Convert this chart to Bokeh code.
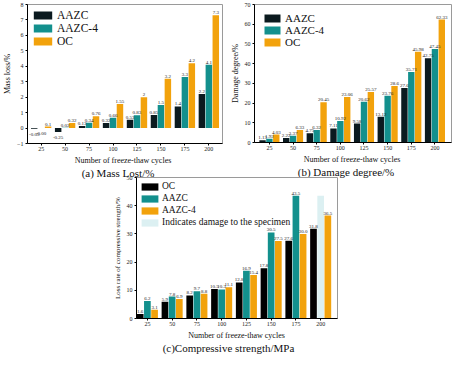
from bokeh.plotting import figure
from bokeh.models import ColumnDataSource, Legend, LegendItem, Spacer, FixedTicker, Div
from bokeh.layouts import column, row
from bokeh.embed import file_html
from bokeh.resources import INLINE
from bokeh.core.properties import value

# ---------------- data ----------------
cycles = ["25", "50", "75", "100", "125", "150", "175", "200"]

# (a) Mass loss /%
mass_aazc = [-0.05, -0.25, 0.13, 0.32, 0.53, 0.85, 1.4, 2.2]
mass_aazc4 = [-0.0, 0.02, 0.34, 0.66, 0.83, 1.5, 3.3, 4.1]
mass_oc = [0.1, 0.32, 0.76, 1.55, 2, 3.2, 4.2, 7.3]

# (b) Damage degree /%
dmg_aazc = [1.13, 2.22, 4.75, 7.11, 9.58, 13.12, 27.6, 42.75]
dmg_aazc4 = [1.92, 3.37, 6.32, 10.92, 20.62, 23.76, 35.71, 47.45]
dmg_oc = [4.03, 6.33, 20.45, 23.06, 25.57, 28.6, 45.98, 62.33]

# (c) Loss rate of compressive strength /%
cs_oc = [1.6, 5.9, 8.2, 10.5, 12.8, 17.8, 27.6, 31.8]
cs_aazc = [6.2, 7.8, 9.7, 10.3, 16.9, 30.5, 43.5, None]
cs_aazc4 = [3.1, 6.9, 8.8, 11.1, 15.4, 27.5, 30.0, 36.5]
cs_damaged = [None, None, None, None, None, None, None, 43.5]

XLABEL = "Number of freeze-thaw cycles"

# ---------------- style ----------------
SERIF = "Liberation Serif"
DARK = "#0b1a1f"
BLACK = "#000000"
TEAL = "#13908d"
ORANGE = "#f2a20c"
LIGHT = "#dcf0f2"
STEP = 0.29
BARW = 0.27


def fmt_g(v):
    if abs(v) < 0.005:
        return f"{v:.2f}"
    return f"{v:g}"


def fmt_1(v):
    return f"{v:.1f}"


def make_panel(w, h, borders, x_range, y_range, y_ticks, ylabel,
               series, legend_cfg, fmt, ylabel_size="8px"):
    left, right, top, bottom = borders
    p = figure(width=w, height=h, x_range=x_range, y_range=y_range,
               output_backend="svg", toolbar_location=None,
               min_border_left=left, min_border_right=right,
               min_border_top=top, min_border_bottom=bottom)
    p.xgrid.visible = False
    p.ygrid.visible = False
    p.outline_line_color = "#9a9a9a"
    p.outline_line_width = 1
    p.background_fill_color = "white"
    p.border_fill_alpha = 0

    p.xaxis.ticker = FixedTicker(ticks=list(range(1, len(cycles) + 1)))
    p.xaxis.major_label_overrides = {i + 1: c for i, c in enumerate(cycles)}
    p.yaxis.ticker = FixedTicker(ticks=y_ticks)
    for ax in (p.xaxis[0], p.yaxis[0]):
        ax.axis_line_color = "black"
        ax.major_tick_line_color = "black"
        ax.major_tick_out = 2
        ax.major_tick_in = 0
        ax.minor_tick_line_color = None
        ax.major_label_text_font = SERIF
        ax.major_label_text_font_size = "6px"
        ax.major_label_text_color = "#222222"
        ax.major_label_standoff = 1
        ax.axis_label_text_font = SERIF
        ax.axis_label_text_font_style = "normal"
        ax.axis_label_text_color = "#111111"
    p.yaxis.axis_label_text_font_size = ylabel_size
    p.yaxis.major_label_standoff = 2
    p.yaxis.axis_label_standoff = 2
    p.yaxis.axis_label = ylabel

    items = []
    lx, ly, lt, lo = [], [], [], []
    for name, vals, color, slot, labelled in series:
        off = (slot - 1) * STEP
        xs = [i + 1 + off for i, v in enumerate(vals) if v is not None]
        tops = [v for v in vals if v is not None]
        src = ColumnDataSource(dict(x=xs, top=tops))
        r = p.vbar(x="x", top="top", bottom=0, width=BARW, source=src,
                   fill_color=color, line_color=None)
        items.append(LegendItem(label=name, renderers=[r]))
        if labelled:
            for x, v in zip(xs, tops):
                lx.append(x)
                ly.append(v)
                neg = v < 0 or (v == 0 and str(v).startswith("-"))
                lo.append(7 if neg else -1)
                lt.append(fmt(v))
    lsrc = ColumnDataSource(dict(x=lx, y=ly, t=lt, o=lo))
    p.text(x="x", y="y", text="t", y_offset="o", source=lsrc,
           text_font=value(SERIF), text_font_size="5px", text_color="#222222",
           text_align="center", text_baseline="bottom")

    fs, gw, gh, lh, mg, st = legend_cfg
    leg = Legend(items=items, location="top_left",
                 label_text_font=SERIF, label_text_font_size=fs,
                 label_text_color="#111111",
                 glyph_width=gw, glyph_height=gh, label_height=lh,
                 label_standoff=st, spacing=0, padding=0, margin=mg,
                 border_line_alpha=0, background_fill_alpha=0)
    p.add_layout(leg)
    return p


def caption_div(title, width, dx_label, dx_title):
    html = (
        '<div style="width:%dpx;text-align:center;font-family:\'Liberation Serif\',serif;'
        'color:#111111;white-space:nowrap;">'
        '<div style="position:relative;left:%dpx;font-size:8px;line-height:11px;">%s</div>'
        '<div style="position:relative;left:%dpx;font-size:11px;line-height:14px;">%s</div>'
        '</div>' % (width, dx_label, XLABEL, dx_title, title))
    return Div(text=html, width=width, height=25, margin=0)


# panel (a): canvas 224 x 155 (borders L24 R2 T4 B12) -> frame 198 x 139
pa = make_panel(224, 155, (24, 2, 4, 12), (0.43, 8.57), (-1, 8),
                list(range(-1, 9)), "Mass loss/%",
                [("AAZC", mass_aazc, DARK, 0, True),
                 ("AAZC-4", mass_aazc4, TEAL, 1, True),
                 ("OC", mass_oc, ORANGE, 2, True)],
                ("11.5px", 23, 10, 13, 4, 3), fmt_g)
# panel (b): canvas 230 x 154 (borders L30 R3 T4 B12) -> frame 197 x 138
pb = make_panel(230, 154, (30, 3, 4, 12), (0.37, 8.7), (0, 70),
                list(range(0, 71, 10)), "Damage degree/%",
                [("AAZC", dmg_aazc, DARK, 0, True),
                 ("AAZC-4", dmg_aazc4, TEAL, 1, True),
                 ("OC", dmg_oc, ORANGE, 2, True)],
                ("11px", 20, 10, 12, 8, 3), fmt_g)
# panel (c): canvas 235 x 156 (borders L30 R4 T3 B12) -> frame 201 x 141
pc = make_panel(235, 156, (30, 4, 3, 12), (0.56, 8.68), (0, 50),
                list(range(0, 51, 10)), "Loss rate of compressive strength/%",
                [("OC", cs_oc, BLACK, 0, True),
                 ("AAZC", cs_aazc, TEAL, 1, True),
                 ("AAZC-4", cs_aazc4, ORANGE, 2, True),
                 ("Indicates damage to the specimen", cs_damaged, LIGHT, 1, False)],
                ("9.5px", 21, 9, 12, 3, 2), fmt_1, ylabel_size="7px")

ca = caption_div("(a) Mass Lost/%", 224, 11, 6)
cb = caption_div("(b) Damage degree/%", 230, 13, 7)
cc = caption_div("(c)Compressive strength/MPa", 235, 13, 5)

# the bottom panel tucks up slightly under the captions of the top row
layout = column(
    row(column(pa, ca), column(pb, cb)),
    row(Spacer(width=106, height=181), column(pc, cc), margin=(-6, 0, 0, 0)),
)

open("out.html", "w").write(file_html(layout, INLINE))
